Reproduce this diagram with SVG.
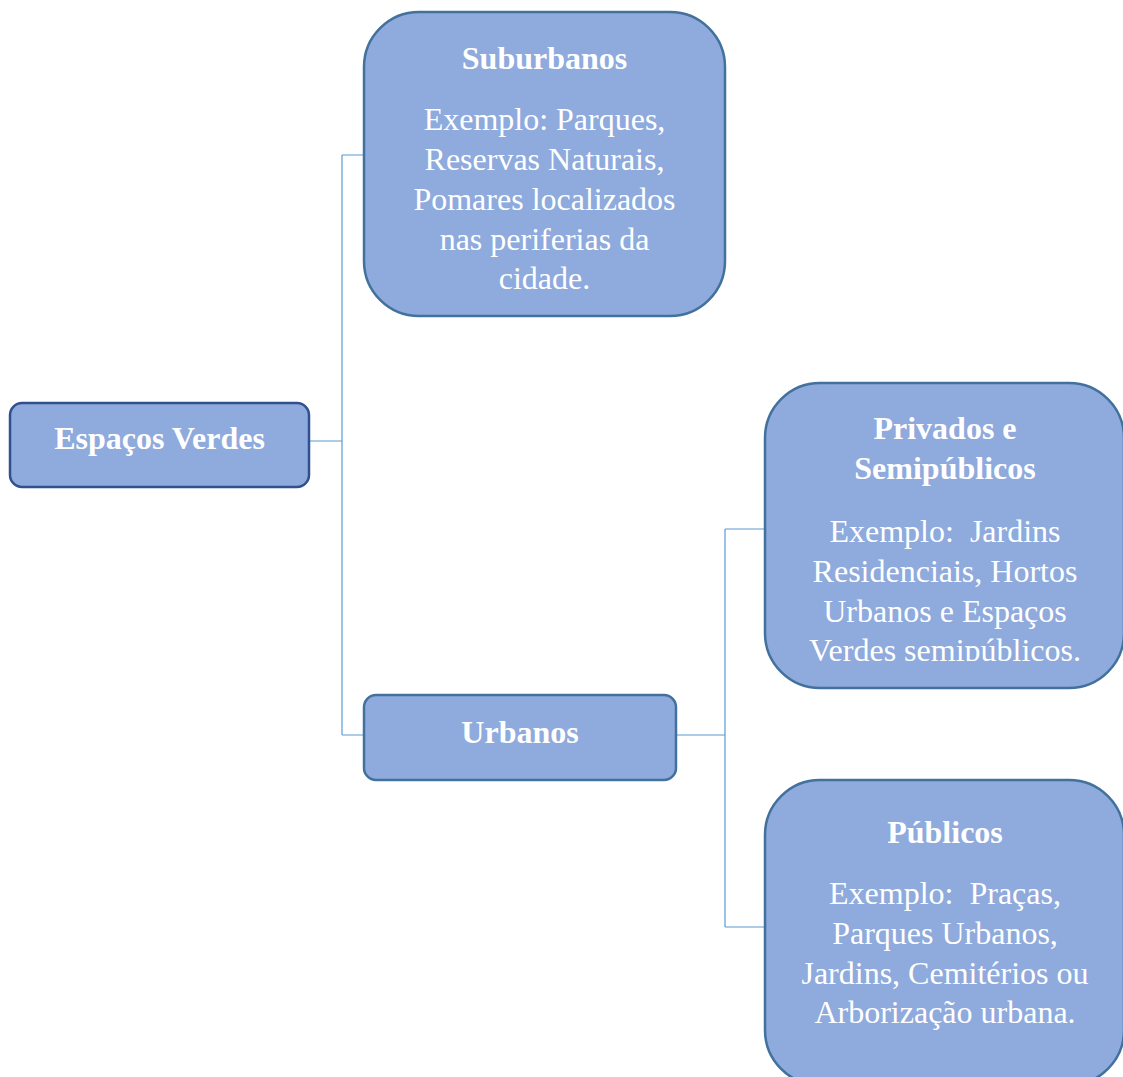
<svg xmlns="http://www.w3.org/2000/svg" width="1123" height="1077" viewBox="0 0 1123 1077">
<style>
.box{fill:#8FAADC;stroke:#41719C;stroke-width:2.5}
.root{fill:#8FAADC;stroke:#2F528F;stroke-width:2.5}
.t{font-family:"Liberation Serif","Times New Roman",serif;font-size:32px;fill:#FFFFFF;text-anchor:middle;white-space:pre}
.b{font-weight:bold}
.c{fill:none;stroke:#5B9BD5;stroke-width:1.2}
</style>
<defs>
<clipPath id="clipPriv"><rect x="765" y="383" width="360" height="278"/></clipPath>
</defs>
<rect width="1123" height="1077" fill="#FFFFFF"/>
<g id="connectors">
<path class="c" d="M309 441 H342 M342 155 V735 M342 155 H364 M342 735 H364"/>
<path class="c" d="M676 735 H725 M725 529 V927 M725 529 H765 M725 927 H765"/>
</g>
<g id="espacos-verdes">
<rect class="root" x="10" y="403" width="299" height="84" rx="12"/>
<text class="t b" x="159.5" y="449">Espaços Verdes</text>
</g>
<g id="suburbanos">
<rect class="box" x="364" y="12" width="361" height="304" rx="55"/>
<text class="t b" x="544.5" y="69">Suburbanos</text>
<text class="t" x="544.5" y="130">Exemplo: Parques,</text>
<text class="t" x="544.5" y="170">Reservas Naturais,</text>
<text class="t" x="544.5" y="210">Pomares localizados</text>
<text class="t" x="544.5" y="250">nas periferias da</text>
<text class="t" x="544.5" y="289">cidade.</text>
</g>
<g id="urbanos">
<rect class="box" x="364" y="695" width="312" height="85" rx="12"/>
<text class="t b" x="520" y="743">Urbanos</text>
</g>
<g id="privados">
<rect class="box" x="765" y="383" width="359" height="305" rx="55"/>
<g clip-path="url(#clipPriv)">
<text class="t b" x="945" y="439">Privados e</text>
<text class="t b" x="945" y="479">Semipúblicos</text>
<text class="t" x="945" y="542" xml:space="preserve">Exemplo:  Jardins</text>
<text class="t" x="945" y="582">Residenciais, Hortos</text>
<text class="t" x="945" y="622">Urbanos e Espaços</text>
<text class="t" x="945" y="661">Verdes semipúblicos.</text>
</g>
</g>
<g id="publicos">
<rect class="box" x="765" y="780" width="359" height="305" rx="55"/>
<text class="t b" x="945" y="843">Públicos</text>
<text class="t" x="945" y="904" xml:space="preserve">Exemplo:  Praças,</text>
<text class="t" x="945" y="944">Parques Urbanos,</text>
<text class="t" x="945" y="984">Jardins, Cemitérios ou</text>
<text class="t" x="945" y="1023">Arborização urbana.</text>
</g>
</svg>
